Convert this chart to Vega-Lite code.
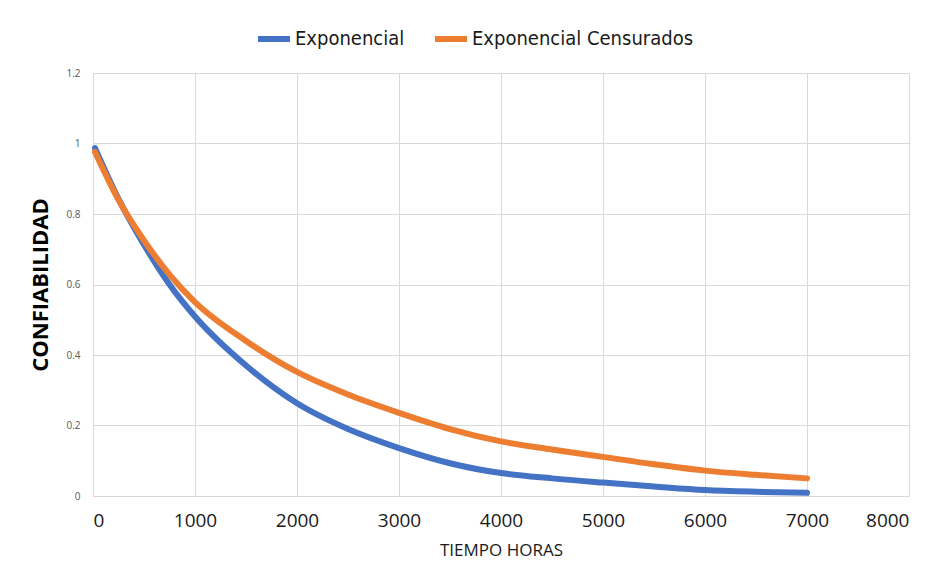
{
  "$schema": "https://vega.github.io/schema/vega-lite/v6.json",
  "autosize": {"type": "none"},
  "width": 816,
  "height": 423,
  "padding": {"left": 93, "top": 73, "right": 26, "bottom": 81},
  "background": "white",
  "config": {
    "view": {"stroke": null},
    "font": "Open Sans"
  },
  "data": {
    "values": [
      {"serie": "Exponencial", "t": 20, "r": 0.987},
      {"serie": "Exponencial", "t": 250, "r": 0.843},
      {"serie": "Exponencial", "t": 500, "r": 0.713},
      {"serie": "Exponencial", "t": 750, "r": 0.600},
      {"serie": "Exponencial", "t": 1000, "r": 0.509},
      {"serie": "Exponencial", "t": 1500, "r": 0.370},
      {"serie": "Exponencial", "t": 2000, "r": 0.263},
      {"serie": "Exponencial", "t": 2500, "r": 0.190},
      {"serie": "Exponencial", "t": 3000, "r": 0.136},
      {"serie": "Exponencial", "t": 3500, "r": 0.093},
      {"serie": "Exponencial", "t": 4000, "r": 0.065},
      {"serie": "Exponencial", "t": 4500, "r": 0.050},
      {"serie": "Exponencial", "t": 5000, "r": 0.038},
      {"serie": "Exponencial", "t": 5500, "r": 0.027},
      {"serie": "Exponencial", "t": 6000, "r": 0.017},
      {"serie": "Exponencial", "t": 6500, "r": 0.012},
      {"serie": "Exponencial", "t": 7000, "r": 0.009},
      {"serie": "Exponencial Censurados", "t": 20, "r": 0.976},
      {"serie": "Exponencial Censurados", "t": 250, "r": 0.840},
      {"serie": "Exponencial Censurados", "t": 500, "r": 0.725},
      {"serie": "Exponencial Censurados", "t": 750, "r": 0.628},
      {"serie": "Exponencial Censurados", "t": 1000, "r": 0.550},
      {"serie": "Exponencial Censurados", "t": 1500, "r": 0.440},
      {"serie": "Exponencial Censurados", "t": 2000, "r": 0.352},
      {"serie": "Exponencial Censurados", "t": 2500, "r": 0.288},
      {"serie": "Exponencial Censurados", "t": 3000, "r": 0.236},
      {"serie": "Exponencial Censurados", "t": 3500, "r": 0.190},
      {"serie": "Exponencial Censurados", "t": 4000, "r": 0.155},
      {"serie": "Exponencial Censurados", "t": 4500, "r": 0.132},
      {"serie": "Exponencial Censurados", "t": 5000, "r": 0.111},
      {"serie": "Exponencial Censurados", "t": 5500, "r": 0.090},
      {"serie": "Exponencial Censurados", "t": 6000, "r": 0.072},
      {"serie": "Exponencial Censurados", "t": 6500, "r": 0.060},
      {"serie": "Exponencial Censurados", "t": 7000, "r": 0.050}
    ]
  },
  "mark": {"type": "line", "strokeWidth": 6, "strokeCap": "round", "strokeJoin": "round", "interpolate": "monotone"},
  "encoding": {
    "x": {
      "field": "t",
      "type": "quantitative",
      "scale": {"domain": [0, 8000], "nice": false},
      "axis": {
        "title": "TIEMPO HORAS",
        "values": [0, 1000, 2000, 3000, 4000, 5000, 6000, 7000, 8000],
        "format": "d",
        "grid": true,
        "gridColor": "#d9d9d9",
        "domainColor": "#d9d9d9",
        "ticks": false,
        "labelFontSize": 19,
        "labelColor": "#1a1a1a",
        "labelPadding": 15,
        "titleFontSize": 17,
        "titleFontWeight": "normal",
        "titleColor": "#1a1a1a",
        "titlePadding": 12
      }
    },
    "y": {
      "field": "r",
      "type": "quantitative",
      "scale": {"domain": [0, 1.2], "nice": false},
      "axis": {
        "title": "CONFIABILIDAD",
        "values": [0, 0.2, 0.4, 0.6, 0.8, 1, 1.2],
        "format": "~g",
        "grid": true,
        "gridColor": "#d9d9d9",
        "domainColor": "#d9d9d9",
        "ticks": false,
        "labelFontSize": 10,
        "labelColor": "#595959",
        "labelPadding": 13,
        "titleFontSize": 22,
        "titleFontWeight": "bold",
        "titleColor": "#000000",
        "titlePadding": 13
      }
    },
    "color": {
      "field": "serie",
      "type": "nominal",
      "scale": {"domain": ["Exponencial", "Exponencial Censurados"], "range": ["#4472C4", "#ED7D31"]},
      "legend": {
        "title": null,
        "orient": "none",
        "direction": "horizontal",
        "legendX": 162,
        "legendY": -53,
        "symbolType": "stroke",
        "symbolSize": 1024,
        "symbolStrokeWidth": 6,
        "labelFont": "DejaVu Sans Condensed, Roboto, sans-serif",
        "labelFontSize": 20,
        "labelLimit": 0,
        "labelColor": "#1a1a1a",
        "labelOffset": 2,
        "columnPadding": 18
      }
    }
  }
}
